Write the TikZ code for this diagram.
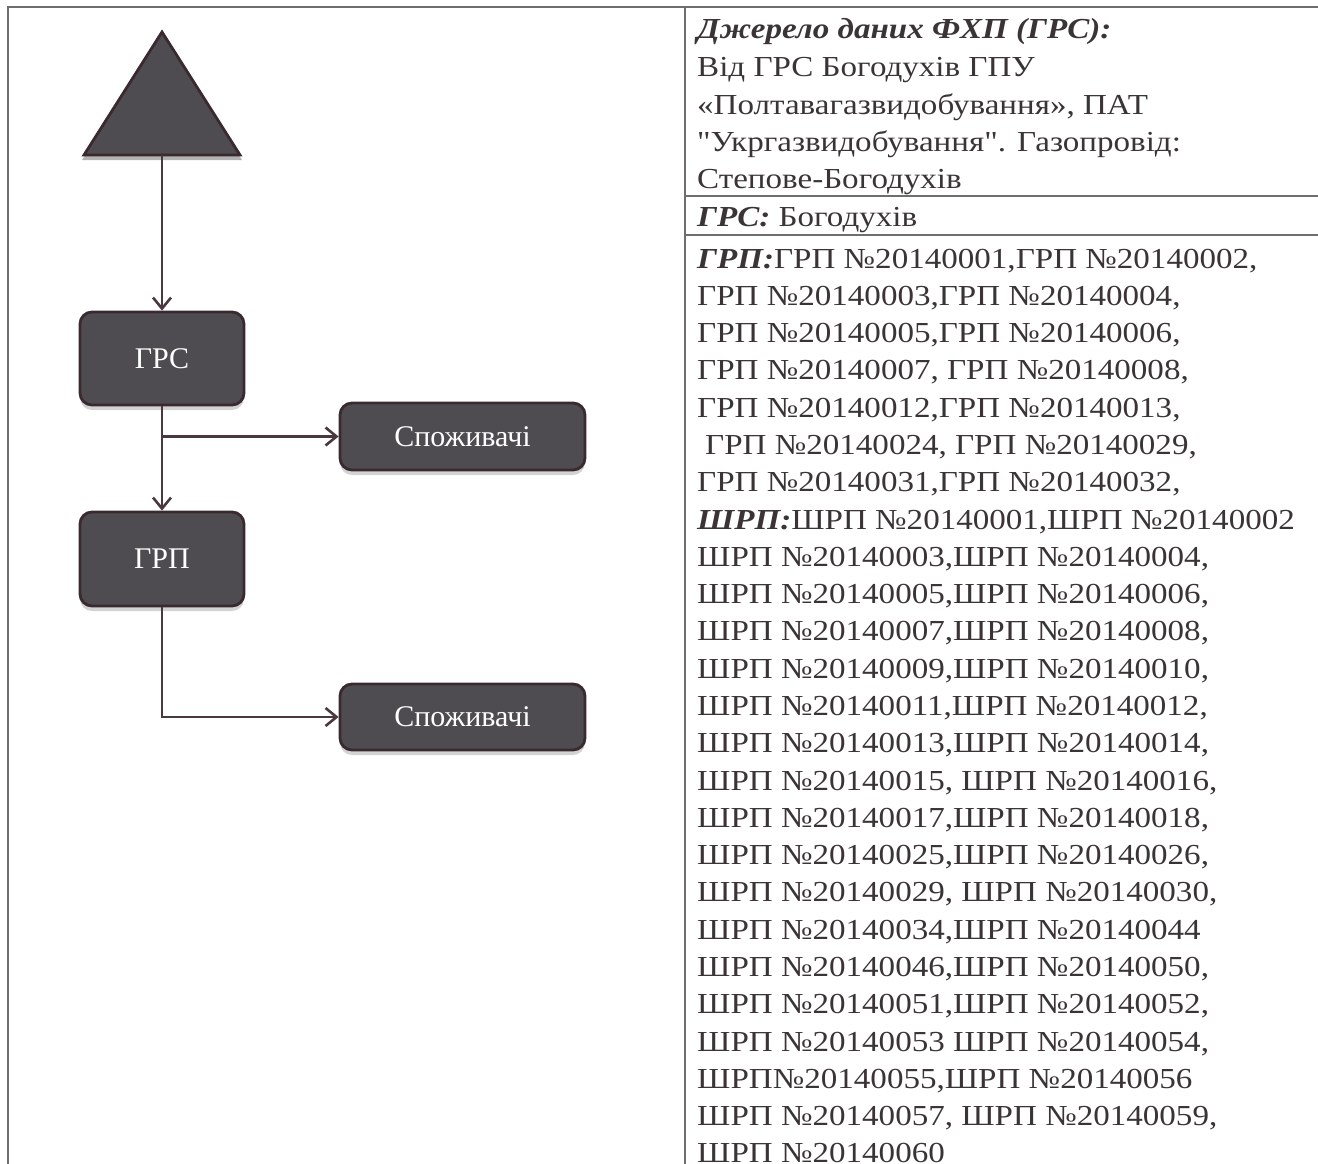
\documentclass[tikz,border=0pt]{standalone}
\usepackage{fontspec}
\setmainfont{Liberation Serif}
\newfontfamily\cellfont{Liberation Serif}[FakeStretch=1.14]
\usetikzlibrary{arrows.meta,shadows}
\definecolor{frameC}{HTML}{6E6E6E}
\definecolor{boxF}{HTML}{4E4C50}
\definecolor{boxD}{HTML}{3A2A30}
\definecolor{arrC}{HTML}{4A383E}
\definecolor{txtC}{HTML}{3B3436}
\newcommand{\bihead}[1]{\textbf{\textit{#1}}}
\begin{document}
\begin{tikzpicture}[x=1pt,y=-1pt,
  frameline/.style={draw=frameC,line width=1.3pt},
  flowbox/.style={draw=boxD,line width=2.8pt,fill=boxF,rounded corners=12pt,
    text=white,font=\fontsize{30}{31}\selectfont,inner sep=0pt,
    drop shadow={opacity=0.35,shadow xshift=0pt,shadow yshift=-5pt}},
  conn/.style={draw=arrC,line width=2.8pt,-{Straight Barb[length=11pt,width=18pt,line width=2.6pt]}},
  celltxt/.style={anchor=base west,inner sep=0pt,text=txtC,font=\cellfont\fontsize{29}{30}\selectfont}
]
\useasboundingbox (0,0) rectangle (1318,1164);
% frame
\draw[frameline] (8,1164) -- (8,7) -- (1318,7);
\draw[frameline] (685,7) -- (685,1164);
\draw[frameline] (685,196) -- (1318,196);
\draw[frameline] (685,235) -- (1318,235);
% source triangle
\fill[black,opacity=0.3] (162,37) -- (242,160) -- (82,160) -- cycle;
\draw[draw=boxD,line width=2.8pt,fill=boxF,line join=miter] (162,32) -- (240,155) -- (84,155) -- cycle;
\coordinate (src) at (162,155);
% boxes
\node[flowbox,minimum width=164pt,minimum height=93pt] (grs) at (162,358.5) {ГРС};
\node[flowbox,minimum width=245pt,minimum height=67pt] (c1) at (462.5,436.5) {Споживачі};
\node[flowbox,minimum width=164pt,minimum height=94pt] (grp) at (162,559) {ГРП};
\node[flowbox,minimum width=245pt,minimum height=66pt] (c2) at (462.5,717) {Споживачі};
% connectors
\draw[conn] (src) -- (grs.north);
\draw[conn] (grs.south) -- (grp.north);
\draw[conn] (grs.south |- c1.west) -- (c1.west);
\draw[conn] (grp.south) |- (c2.west);
% top cell
\node[celltxt] (h1) at (697,39) {\bihead{Джерело даних ФХП (ГРС):}};
\node[celltxt] (h2) at (697,77) {Від ГРС Богодухів ГПУ};
\node[celltxt] (h3) at (697,114) {«Полтавагазвидобування», ПАТ};
\node[celltxt] (h4) at (697,151) {"Укргазвидобування". Газопровід:};
\node[celltxt] (h5) at (697,188) {Степове-Богодухів};
\node[celltxt] (h6) at (697,226) {\bihead{ГРС:} Богодухів};
% list cell
\foreach \t [count=\i] in {
 {\bihead{ГРП:}ГРП №20140001,ГРП №20140002,},
 {ГРП №20140003,ГРП №20140004,},
 {ГРП №20140005,ГРП №20140006,},
 {ГРП №20140007, ГРП №20140008,},
 {ГРП №20140012,ГРП №20140013,},
 {\hspace{8pt}ГРП №20140024, ГРП №20140029,},
 {ГРП №20140031,ГРП №20140032,},
 {\bihead{ШРП:}ШРП №20140001,ШРП №20140002},
 {ШРП №20140003,ШРП №20140004,},
 {ШРП №20140005,ШРП №20140006,},
 {ШРП №20140007,ШРП №20140008,},
 {ШРП №20140009,ШРП №20140010,},
 {ШРП №20140011,ШРП №20140012,},
 {ШРП №20140013,ШРП №20140014,},
 {ШРП №20140015, ШРП №20140016,},
 {ШРП №20140017,ШРП №20140018,},
 {ШРП №20140025,ШРП №20140026,},
 {ШРП №20140029, ШРП №20140030,},
 {ШРП №20140034,ШРП №20140044},
 {ШРП №20140046,ШРП №20140050,},
 {ШРП №20140051,ШРП №20140052,},
 {ШРП №20140053 ШРП №20140054,},
 {ШРП№20140055,ШРП №20140056},
 {ШРП №20140057, ШРП №20140059,},
 {ШРП №20140060}}
 \node[celltxt,name=g\i] at (697,{268+37.29*(\i-1)}) {\t};
\end{tikzpicture}
\end{document}
